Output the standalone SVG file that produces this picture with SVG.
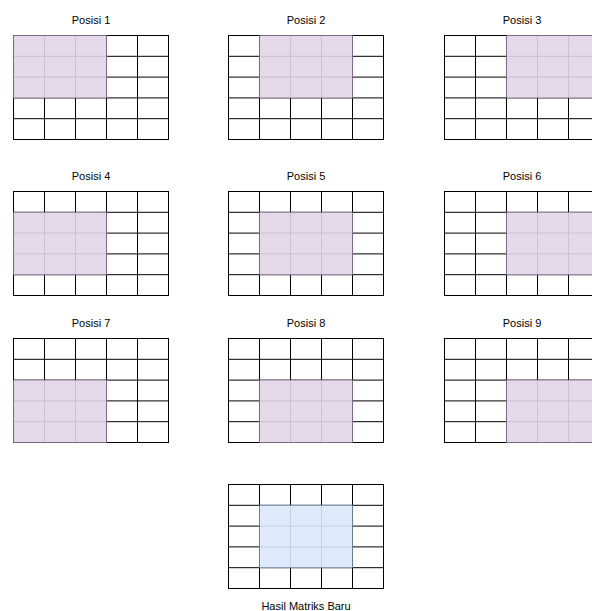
<svg xmlns="http://www.w3.org/2000/svg" xmlns:xlink="http://www.w3.org/1999/xlink" width="592" height="611" viewBox="0 0 592 611">
<style>
.t{font-family:"Liberation Sans",Arial,sans-serif;font-size:11px;fill:#000;text-anchor:middle}
.cell{fill:#fff;stroke:#000;stroke-width:1}
.ln{stroke:#000;stroke-width:1}
.hl{fill:#e1d5e7;fill-opacity:0.9;stroke:#9673a6;stroke-opacity:0.5}
.res{fill:#dae8fc;fill-opacity:0.9;stroke:#6c8ebf;stroke-opacity:0.5}
</style>
<defs>
<g id="grid">
<rect class="cell" x="0" y="0" width="155" height="104"/>
<path class="ln" d="M31 0V104M62 0V104M93 0V104M124 0V104M0 20.8H155M0 41.6H155M0 62.4H155M0 83.2H155"/>
</g>
</defs>
<rect width="592" height="611" fill="#fff"/>
<g id="pos1" transform="translate(13.5,35.5)"><text class="t" x="77.5" y="-12">Posisi 1</text><use xlink:href="#grid"/><rect class="hl" x="0" y="0" width="93" height="62.4"/></g>
<g id="pos2" transform="translate(228.5,35.5)"><text class="t" x="77.5" y="-12">Posisi 2</text><use xlink:href="#grid"/><rect class="hl" x="31" y="0" width="93" height="62.4"/></g>
<g id="pos3" transform="translate(444.5,35.5)"><text class="t" x="77.5" y="-12">Posisi 3</text><use xlink:href="#grid"/><rect class="hl" x="62" y="0" width="93" height="62.4"/></g>
<g id="pos4" transform="translate(13.5,191.5)"><text class="t" x="77.5" y="-12">Posisi 4</text><use xlink:href="#grid"/><rect class="hl" x="0" y="20.8" width="93" height="62.4"/></g>
<g id="pos5" transform="translate(228.5,191.5)"><text class="t" x="77.5" y="-12">Posisi 5</text><use xlink:href="#grid"/><rect class="hl" x="31" y="20.8" width="93" height="62.4"/></g>
<g id="pos6" transform="translate(444.5,191.5)"><text class="t" x="77.5" y="-12">Posisi 6</text><use xlink:href="#grid"/><rect class="hl" x="62" y="20.8" width="93" height="62.4"/></g>
<g id="pos7" transform="translate(13.5,338.5)"><text class="t" x="77.5" y="-12">Posisi 7</text><use xlink:href="#grid"/><rect class="hl" x="0" y="41.6" width="93" height="62.4"/></g>
<g id="pos8" transform="translate(228.5,338.5)"><text class="t" x="77.5" y="-12">Posisi 8</text><use xlink:href="#grid"/><rect class="hl" x="31" y="41.6" width="93" height="62.4"/></g>
<g id="pos9" transform="translate(444.5,338.5)"><text class="t" x="77.5" y="-12">Posisi 9</text><use xlink:href="#grid"/><rect class="hl" x="62" y="41.6" width="93" height="62.4"/></g>
<g id="hasil" transform="translate(228.5,484.5)"><use xlink:href="#grid"/><rect class="res" x="31" y="20.8" width="93" height="62.4"/><text class="t" x="77.5" y="125">Hasil Matriks Baru</text></g>
<g id="connectors"/>
</svg>
